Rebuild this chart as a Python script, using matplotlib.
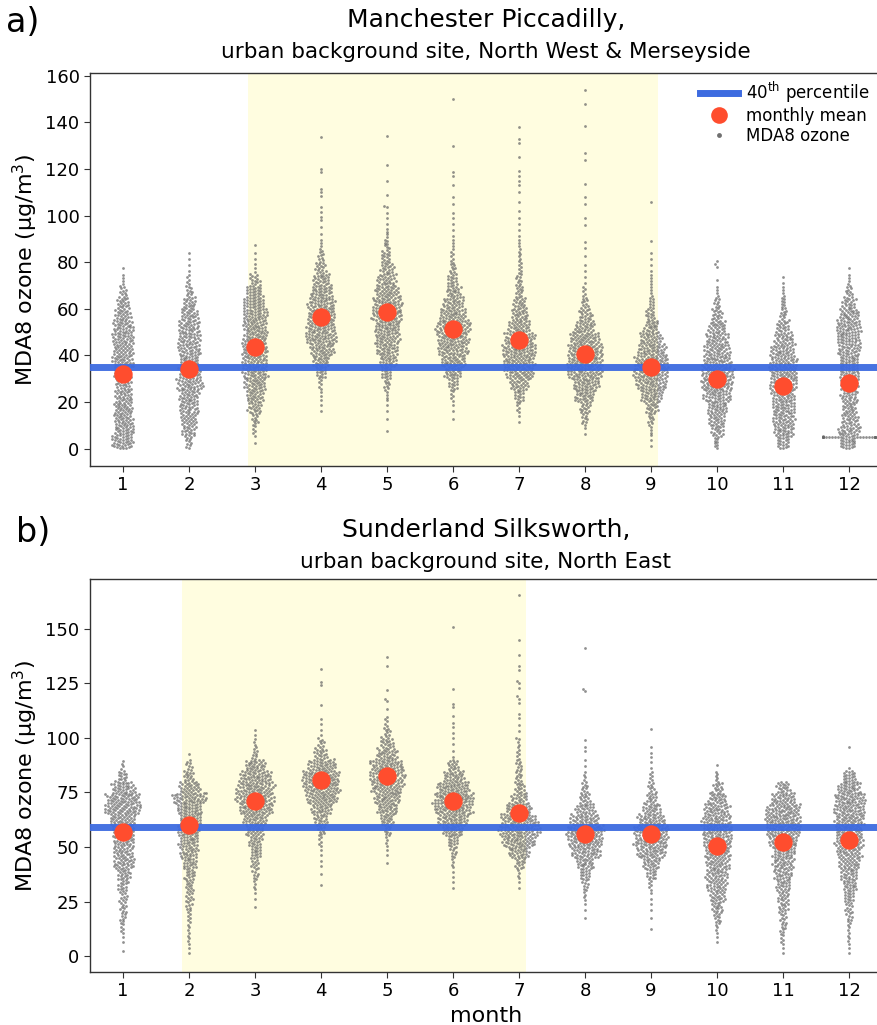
import warnings
warnings.filterwarnings("ignore")
import numpy as np
import matplotlib
matplotlib.use("Agg")
import matplotlib.pyplot as plt
from matplotlib.lines import Line2D
import seaborn as sns

# ---------------- data ----------------
months = list(range(1, 13))
BIN = 5  # histogram bin width (ug/m3); counts start at 0

# Manchester Piccadilly: counts of daily MDA8 values per 5 ug/m3 bin, plus sparse high values
manc_m01 = [31, 29, 28, 28, 25, 23, 25, 31, 29, 31, 29, 23, 18, 10, 4, 1]
manc_m02 = [9, 20, 23, 26, 29, 36, 31, 29, 31, 31, 29, 25, 18, 10, 5, 2, 2]
manc_m03 = [1, 5, 10, 19, 25, 31, 36, 36, 35, 35, 35, 35, 31, 23, 13, 3, 2, 1]
manc_m04 = [0, 0, 0, 2, 3, 5, 14, 24, 35, 45, 41, 41, 38, 31, 24, 15, 9, 4]
manc_m05 = [0, 1, 1, 2, 4, 9, 15, 24, 31, 35, 38, 43, 41, 35, 26, 19, 13, 8, 4, 2, 2]
manc_m06 = [0, 0, 1, 2, 5, 13, 24, 35, 43, 46, 49, 38, 29, 21, 14, 9, 5, 4, 2, 2]
manc_m07 = [0, 0, 2, 5, 14, 26, 40, 46, 49, 43, 31, 24, 18, 11, 9, 6, 5, 4, 2, 2]
manc_m08 = [0, 2, 9, 15, 28, 38, 49, 50, 50, 43, 28, 18, 10, 5, 2, 2, 1, 2]
manc_m09 = [2, 4, 9, 18, 31, 43, 50, 49, 40, 31, 21, 13, 8, 4, 4, 2, 2]
manc_m10 = [8, 18, 24, 29, 38, 45, 45, 40, 36, 31, 24, 15, 9, 4, 1]
manc_m11 = [18, 29, 31, 33, 33, 38, 40, 38, 33, 26, 18, 10, 8, 4, 2]
manc_m12 = [24, 31, 23, 21, 23, 26, 28, 29, 31, 33, 35, 29, 19, 10, 4, 1]

manc_hi_m04 = [92, 95, 98, 99.3, 101.4, 103.6, 108.6, 110, 111.4, 118.6, 120, 133.6]
manc_hi_m05 = [104, 109, 115, 121.5, 134]
manc_hi_m06 = [101, 105, 108, 113, 117, 118.5, 130, 150]
manc_hi_m07 = [102, 106, 110, 113, 115, 117, 119, 125, 131, 133, 138]
manc_hi_m08 = [96, 99, 105, 108, 113.6, 124, 127, 138.6, 148, 154]
manc_hi_m09 = [89, 106]
manc_hi_m10 = [78, 79, 80.7]
manc_lo_m12 = [4.9] * 22

manc_mean = [31.8, 34.2, 43.5, 56.4, 58.5, 51.2, 46.6, 40.6, 35.2, 29.9, 27.0, 28.2]
manc_p40 = 35.0

# Sunderland Silksworth
sund_m01 = [1, 2, 5, 8, 9, 10, 13, 18, 28, 26, 28, 31, 35, 49, 45, 31, 13, 4]
sund_m02 = [2, 4, 4, 5, 8, 10, 11, 14, 19, 24, 26, 29, 31, 35, 45, 28, 14, 8, 1]
sund_m03 = [0, 0, 0, 0, 1, 2, 4, 8, 10, 15, 18, 24, 33, 46, 50, 49, 43, 28, 8, 4, 2]
sund_m04 = [0, 0, 0, 0, 0, 0, 1, 1, 2, 2, 5, 9, 18, 28, 43, 49, 51, 38, 18, 9, 2, 2]
sund_m05 = [0, 0, 0, 0, 0, 0, 0, 0, 1, 2, 4, 9, 18, 28, 36, 43, 46, 45, 28, 18, 9, 5]
sund_m06 = [0, 0, 0, 0, 0, 0, 2, 2, 4, 8, 14, 28, 41, 51, 54, 45, 28, 15, 2]
sund_m07 = [0, 0, 0, 0, 0, 0, 2, 4, 13, 28, 45, 54, 49, 35, 21, 13, 9, 8, 5, 4]
sund_m08 = [0, 0, 0, 1, 2, 4, 8, 14, 24, 38, 46, 50, 38, 26, 14, 9, 4]
sund_m09 = [0, 0, 1, 1, 2, 2, 5, 13, 23, 38, 45, 46, 36, 24, 14, 9, 5, 2]
sund_m10 = [0, 2, 4, 10, 15, 21, 26, 29, 31, 35, 38, 40, 38, 33, 24, 13, 5, 1]
sund_m11 = [2, 5, 8, 9, 13, 15, 19, 24, 28, 31, 38, 45, 49, 45, 31, 18]
sund_m12 = [2, 4, 4, 8, 10, 14, 19, 23, 28, 33, 38, 38, 40, 41, 41, 31, 18]

sund_hi_m04 = [115, 124, 125.5, 131.5]
sund_hi_m05 = [113, 117, 118, 122, 133, 137]
sund_hi_m06 = [97, 100, 102, 105, 107, 110, 114, 115.7, 122.6, 151]
sund_hi_m07 = [100, 103, 106, 109, 111, 116, 118, 119, 123, 125, 126, 131, 133, 138, 144.8, 165.4]
sund_hi_m08 = [87, 89.8, 94, 96, 99, 121.5, 122.5, 141]
sund_hi_m09 = [91, 93, 96, 104]
sund_hi_m12 = [86.4, 96]

sund_mean = [56.9, 60.0, 71.1, 80.6, 82.4, 71.1, 65.6, 56.1, 56.1, 50.6, 52.2, 53.4]
sund_p40 = 59.0

manc_counts = [manc_m01, manc_m02, manc_m03, manc_m04, manc_m05, manc_m06,
               manc_m07, manc_m08, manc_m09, manc_m10, manc_m11, manc_m12]
manc_extra = [[], [], [], manc_hi_m04, manc_hi_m05, manc_hi_m06, manc_hi_m07,
              manc_hi_m08, manc_hi_m09, manc_hi_m10, [], manc_lo_m12]
sund_counts = [sund_m01, sund_m02, sund_m03, sund_m04, sund_m05, sund_m06,
               sund_m07, sund_m08, sund_m09, sund_m10, sund_m11, sund_m12]
sund_extra = [[], [], [], sund_hi_m04, sund_hi_m05, sund_hi_m06, sund_hi_m07,
              sund_hi_m08, sund_hi_m09, [], [], sund_hi_m12]


def expand(counts, extra):
    vals = []
    for i, n in enumerate(counts):
        if n > 0:
            vals.extend(BIN * i + (np.arange(n) + 0.5) * BIN / n)
    vals.extend(extra)
    return vals


def site_frame(counts_list, extra_list):
    xs, ys = [], []
    for m, c, e in zip(months, counts_list, extra_list):
        v = expand(c, e)
        xs.extend([m] * len(v))
        ys.extend(v)
    return np.array(xs), np.array(ys)


# ---------------- style ----------------
plt.rcParams['font.family'] = ['DejaVu Sans']
BLUE = '#3d6be0'
RED = '#ff4d2e'
DOT = '#666666'
SPAN = '#fffde0'
SPINE = '#333333'

fig = plt.figure(figsize=(8.77, 10.25), dpi=100)
ax_a = fig.add_axes([90 / 877, 1 - 466 / 1025, 792 / 877, 393 / 1025])
ax_b = fig.add_axes([90 / 877, 1 - 972 / 1025, 792 / 877, 393 / 1025])

panels = [
    (ax_a, manc_counts, manc_extra, manc_mean, manc_p40, (1.9, 8.1), (-7.5, 161.2),
     np.arange(0, 161, 20)),
    (ax_b, sund_counts, sund_extra, sund_mean, sund_p40, (0.9, 6.1), (-7.3, 172.8),
     np.arange(0, 151, 25)),
]

for ax, counts, extra, means, p40, span, ylim, yt in panels:
    ax.axvspan(span[0], span[1], color=SPAN, zorder=0, lw=0)
    xs, ys = site_frame(counts, extra)
    sns.swarmplot(x=xs, y=ys, order=months, ax=ax, size=2.0, color=DOT,
                  alpha=0.72, linewidth=0, zorder=2)
    ax.axhline(p40, color=BLUE, lw=5, alpha=0.95, zorder=3)
    ax.scatter(np.arange(12), means, s=175, color=RED, zorder=5, linewidths=0)
    ax.set_xlim(-0.5, 11.5)
    ax.set_ylim(*ylim)
    ax.set_yticks(yt)
    ax.set_xticks(np.arange(12))
    ax.set_xticklabels([str(m) for m in months])
    ax.set_ylabel('MDA8 ozone (µg/m$^{3}$)', fontsize=16)
    ax.set_xlabel('')
    ax.tick_params(labelsize=13, length=4, color=SPINE)
    for s in ax.spines.values():
        s.set_color(SPINE)
        s.set_linewidth(1.0)
    ax.grid(False)

ax_b.set_xlabel('month', fontsize=16)

handles = [Line2D([0], [0], color=BLUE, lw=5),
           Line2D([0], [0], marker='o', ls='', color=RED, markersize=12, markeredgewidth=0),
           Line2D([0], [0], marker='o', ls='', color='#707070', markersize=3.5, markeredgewidth=0)]
labels = ['40$^{\\rm th}$ percentile', 'monthly mean', 'MDA8 ozone']
fig.legend(handles, labels, loc='upper right', bbox_to_anchor=(870 / 877, 1 - 80 / 1025),
           bbox_transform=fig.transFigure, frameon=False, fontsize=12,
           handlelength=2.3, labelspacing=0.12, borderaxespad=0, borderpad=0,
           handletextpad=0.5)

cx = 486 / 877
fig.text(cx, 1 - 20 / 1025, 'Manchester Piccadilly,', ha='center', va='center', fontsize=18)
fig.text(cx, 1 - 52 / 1025, 'urban background site, North West & Merseyside', ha='center',
         va='center', fontsize=15.5)
fig.text(cx, 1 - 530 / 1025, 'Sunderland Silksworth,', ha='center', va='center', fontsize=18)
fig.text(cx, 1 - 562 / 1025, 'urban background site, North East', ha='center',
         va='center', fontsize=15.5)
fig.text(6 / 877, 1 - 22 / 1025, 'a)', ha='left', va='center', fontsize=24)
fig.text(16 / 877, 1 - 532 / 1025, 'b)', ha='left', va='center', fontsize=24)

fig.savefig('out.png', dpi=100)
